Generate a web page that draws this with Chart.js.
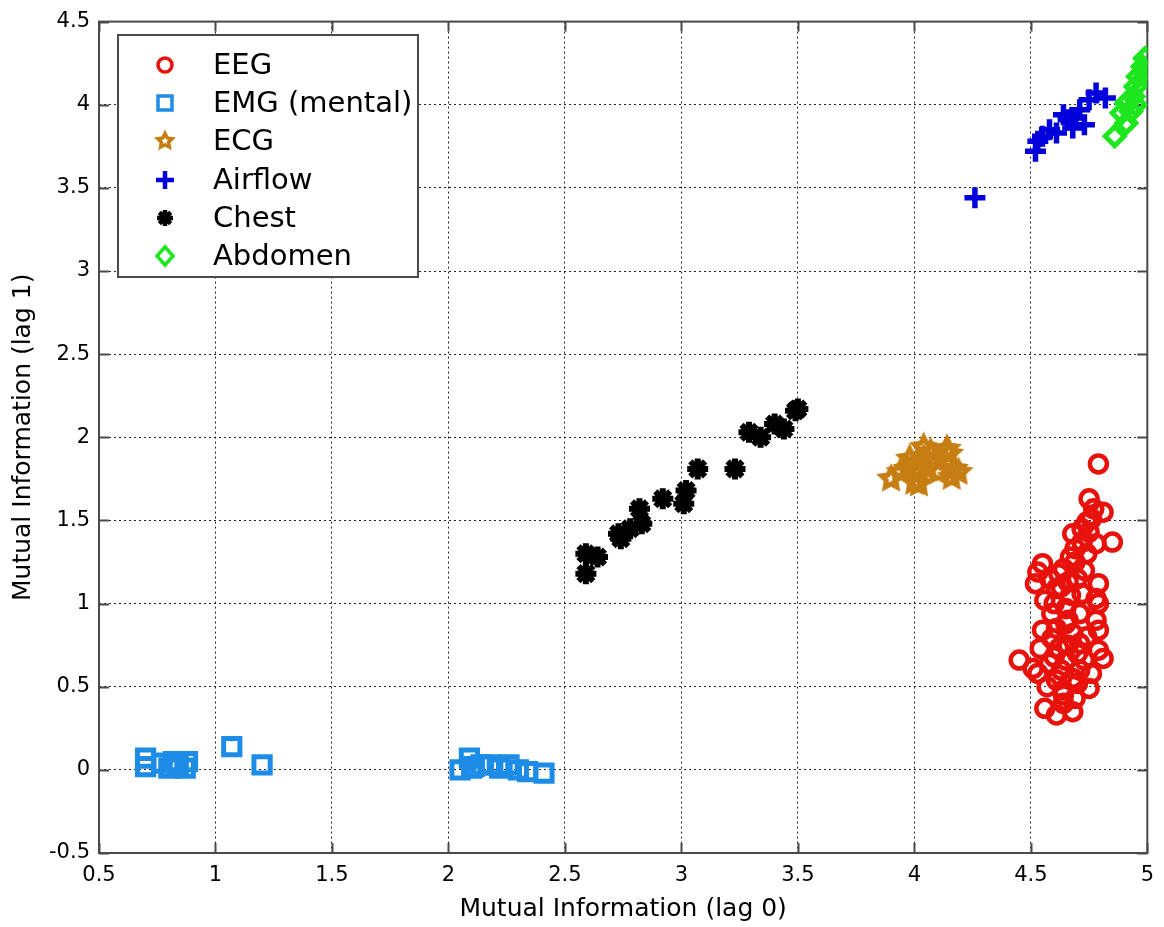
<!DOCTYPE html>
<html>
<head>
<meta charset="utf-8">
<script src="https://cdn.jsdelivr.net/npm/chart.js@4/dist/chart.umd.min.js"></script>
<style>
  html, body { margin: 0; padding: 0; background: #fff; }
  #wrap { width: 1164px; height: 927px; }
</style>
</head>
<body>
<div id="wrap"><canvas id="miChart" width="1164" height="927"></canvas></div>
<script>
// Series names, legend order
const seriesNames = ["EEG", "EMG (mental)", "ECG", "Airflow", "Chest", "Abdomen"];

// Axis ticks
const xTicks = [0.5, 1, 1.5, 2, 2.5, 3, 3.5, 4, 4.5, 5];
const yTicks = [-0.5, 0, 0.5, 1, 1.5, 2, 2.5, 3, 3.5, 4, 4.5];

// EEG (red circles)
const eegX = [4.79, 4.75, 4.77, 4.81, 4.68, 4.85, 4.75, 4.78, 4.55, 4.53, 4.52, 4.64, 4.69, 4.74, 4.79,
  4.56, 4.61, 4.66, 4.72, 4.78, 4.59, 4.65, 4.71, 4.78, 4.55, 4.79, 4.61, 4.68, 4.54, 4.62, 4.71, 4.79,
  4.45, 4.51, 4.58, 4.65, 4.73, 4.81, 4.53, 4.61, 4.68, 4.75, 4.64, 4.69, 4.56, 4.61, 4.64, 4.71, 4.66,
  4.62, 4.58, 4.69, 4.72, 4.74, 4.76, 4.79, 4.59, 4.67, 4.70, 4.63, 4.74, 4.60, 4.70, 4.66, 4.73, 4.57, 4.68,
  4.63, 4.67, 4.72, 4.65, 4.60, 4.76, 4.70, 4.64];
const eegY = [1.84, 1.63, 1.57, 1.55, 1.42, 1.37, 1.43, 1.36, 1.24, 1.19, 1.12, 1.21, 1.25, 1.30, 1.12,
  1.02, 1.09, 1.13, 1.06, 1.03, 0.94, 0.97, 0.94, 0.90, 0.84, 0.84, 0.85, 0.82, 0.73, 0.73, 0.76, 0.72,
  0.66, 0.61, 0.64, 0.66, 0.66, 0.67, 0.58, 0.54, 0.55, 0.49, 0.48, 0.43, 0.37, 0.33, 0.40, 0.60, 0.90,
  1.18, 1.15, 1.33, 1.37, 1.49, 1.51, 1.00, 0.79, 1.05, 0.70, 0.60, 0.80, 1.00, 1.15, 0.75, 1.20, 0.50, 0.35,
  1.10, 1.28, 1.45, 0.88, 0.68, 0.58, 0.52, 0.45];

// EMG mental (blue squares)
const emgX = [0.70, 0.70, 0.77, 0.80, 0.84, 0.88, 0.87, 0.82, 1.07, 1.20,
  2.05, 2.09, 2.10, 2.11, 2.14, 2.18, 2.22, 2.26, 2.30, 2.34, 2.41];
const emgY = [0.07, 0.02, 0.04, 0.01, 0.03, 0.05, 0.01, 0.05, 0.14, 0.03,
  0.00, 0.07, 0.01, 0.02, 0.03, 0.03, 0.01, 0.03, 0.00, -0.01, -0.02];

// ECG (orange stars)
const ecgX = [3.90, 3.94, 3.97, 3.98, 4.01, 4.02, 4.04, 4.04, 4.06, 4.09, 4.14, 4.15, 4.17, 4.19, 4.10, 4.01, 4.07, 4.00, 4.16];
const ecgY = [1.75, 1.79, 1.81, 1.87, 1.78, 1.72, 1.94, 1.87, 1.81, 1.87, 1.93, 1.90, 1.81, 1.79, 1.79, 1.85, 1.91, 1.73, 1.76];

// Airflow (blue crosses)
const airX = [4.52, 4.53, 4.55, 4.58, 4.61, 4.64, 4.66, 4.68, 4.69, 4.71, 4.73, 4.75, 4.78, 4.82, 4.26];
const airY = [3.72, 3.78, 3.81, 3.85, 3.83, 3.94, 3.91, 3.86, 3.92, 3.97, 3.88, 4.03, 4.07, 4.04, 3.44];

// Chest (black asterisks)
const chestX = [2.59, 2.59, 2.64, 2.73, 2.74, 2.78, 2.83, 2.82, 2.92, 3.01, 3.02, 3.07, 3.23, 3.29, 3.34, 3.40, 3.44, 3.49, 3.50];
const chestY = [1.18, 1.30, 1.28, 1.42, 1.39, 1.45, 1.48, 1.57, 1.63, 1.60, 1.68, 1.81, 1.81, 2.03, 2.00, 2.08, 2.05, 2.16, 2.17];

// Abdomen (green diamonds)
const abdX = [4.86, 4.91, 4.89, 4.91, 4.94, 4.95, 4.96, 4.98, 4.99, 4.99, 4.95, 4.93, 4.99];
const abdY = [3.81, 3.89, 3.95, 4.01, 4.05, 4.11, 4.17, 4.23, 4.28, 4.21, 4.00, 3.96, 4.19];

const colors = ["#e8120c", "#1c8ce6", "#c67d12", "#0000dc", "#000000", "#1ee61e"];

function pairs(xs, ys) {
  return xs.map((x, i) => ({ x: x, y: ys[i] }));
}

// pentagram marker for ECG
function makeStar(r, color, lw) {
  const size = Math.ceil(r * 2 + lw * 2 + 2);
  const c = document.createElement("canvas");
  c.width = size;
  c.height = size;
  const g = c.getContext("2d");
  g.translate(size / 2, size / 2);
  g.beginPath();
  for (let i = 0; i < 10; i++) {
    const rr = i % 2 === 0 ? r : r * 0.5;
    const a = -Math.PI / 2 + (i * Math.PI) / 5;
    if (i === 0) g.moveTo(rr * Math.cos(a), rr * Math.sin(a));
    else g.lineTo(rr * Math.cos(a), rr * Math.sin(a));
  }
  g.closePath();
  g.lineWidth = lw;
  g.lineJoin = "miter";
  g.strokeStyle = color;
  g.stroke();
  return c;
}

const ecgStar = makeStar(10, colors[2], 5);
const ecgStarSmall = makeStar(7.5, colors[2], 3.5);

const FONT = "'DejaVu Sans', Arial, sans-serif";

const datasets = [
  { label: seriesNames[0], data: pairs(eegX, eegY), pointStyle: "circle", pointRadius: 8.5, borderWidth: 4.5, order: 6 },
  { label: seriesNames[1], data: pairs(emgX, emgY), pointStyle: "rect", pointRadius: 11.5, borderWidth: 5, order: 5 },
  { label: seriesNames[2], data: pairs(ecgX, ecgY), pointStyle: ecgStar, pointRadius: 10, borderWidth: 0, order: 4 },
  { label: seriesNames[3], data: pairs(airX, airY), pointStyle: "cross", pointRadius: 10.5, borderWidth: 5.5, order: 3 },
  { label: seriesNames[4], data: pairs(chestX, chestY), pointStyle: "star", pointRadius: 10.5, borderWidth: 6, order: 2 },
  { label: seriesNames[5], data: pairs(abdX, abdY), pointStyle: "rectRot", pointRadius: 9.5, borderWidth: 5, order: 1 },
].map((d, i) => Object.assign(d, {
  borderColor: colors[i],
  backgroundColor: "rgba(0,0,0,0)",
  pointBorderColor: colors[i],
  pointBackgroundColor: "rgba(0,0,0,0)",
  pointBorderWidth: d.borderWidth,
  pointHoverRadius: d.pointRadius,
  pointHoverBorderWidth: d.borderWidth,
  showLine: false,
  clip: 0,
}));

// box, inward ticks and legend, matlab style
const boxPlugin = {
  id: "boxPlugin",
  beforeDatasetsDraw(chart) {
    const { ctx, chartArea: a, scales } = chart;
    ctx.save();
    ctx.strokeStyle = "#4a4a4a";
    ctx.lineWidth = 2;
    ctx.strokeRect(a.left, a.top, a.right - a.left, a.bottom - a.top);
    ctx.beginPath();
    const tl = 10;
    xTicks.forEach((t) => {
      const px = Math.round(scales.x.getPixelForValue(t)) + 0.5;
      ctx.moveTo(px, a.bottom); ctx.lineTo(px, a.bottom - tl);
      ctx.moveTo(px, a.top); ctx.lineTo(px, a.top + tl);
    });
    yTicks.forEach((t) => {
      const py = Math.round(scales.y.getPixelForValue(t)) + 0.5;
      ctx.moveTo(a.left, py); ctx.lineTo(a.left + tl, py);
      ctx.moveTo(a.right, py); ctx.lineTo(a.right - tl, py);
    });
    ctx.stroke();
    ctx.restore();
  },
  afterDraw(chart) {
    const ctx = chart.ctx;
    const left = 118, top = 35, w = 300, h = 242;
    const rowY = [65, 103, 141, 180, 218, 256];
    ctx.save();
    ctx.fillStyle = "#fff";
    ctx.fillRect(left, top, w, h);
    ctx.strokeStyle = "#4a4a4a";
    ctx.lineWidth = 2;
    ctx.strokeRect(left, top, w, h);
    chart.data.datasets.forEach((d, i) => {
      const cx = 165, cy = rowY[i];
      ctx.strokeStyle = colors[i];
      ctx.fillStyle = colors[i];
      ctx.lineWidth = 3.5;
      ctx.beginPath();
      if (i === 0) {
        ctx.arc(cx, cy, 7, 0, Math.PI * 2);
      } else if (i === 1) {
        ctx.rect(cx - 7, cy - 7, 14, 14);
      } else if (i === 2) {
        ctx.drawImage(ecgStarSmall, cx - ecgStarSmall.width / 2, cy - ecgStarSmall.height / 2);
      } else if (i === 3) {
        ctx.lineWidth = 4.5;
        ctx.moveTo(cx - 9, cy); ctx.lineTo(cx + 9, cy);
        ctx.moveTo(cx, cy - 9); ctx.lineTo(cx, cy + 9);
      } else if (i === 4) {
        ctx.lineWidth = 4.5;
        for (let k = 0; k < 4; k++) {
          const ang = (k * Math.PI) / 4;
          ctx.moveTo(cx - 8 * Math.cos(ang), cy - 8 * Math.sin(ang));
          ctx.lineTo(cx + 8 * Math.cos(ang), cy + 8 * Math.sin(ang));
        }
      } else {
        ctx.moveTo(cx - 8, cy); ctx.lineTo(cx, cy - 9);
        ctx.lineTo(cx + 8, cy); ctx.lineTo(cx, cy + 9);
        ctx.closePath();
      }
      ctx.stroke();
      ctx.fillStyle = "#000";
      ctx.font = "29px " + FONT;
      ctx.textAlign = "left";
      ctx.textBaseline = "middle";
      ctx.fillText(d.label, 213, cy + 1);
    });
    ctx.restore();
  },
};

new Chart(document.getElementById("miChart"), {
  type: "scatter",
  data: { datasets: datasets },
  options: {
    responsive: false,
    animation: false,
    events: [],
    layout: { padding: { left: 0, right: 7, top: 19, bottom: 0 } },
    plugins: {
      legend: { display: false },
      tooltip: { enabled: false },
    },
    scales: {
      x: {
        type: "linear",
        min: 0.5,
        max: 5,
        afterBuildTicks: (s) => { s.ticks = xTicks.map((v) => ({ value: v })); },
        afterFit: (s) => { s.height = 74; },
        ticks: {
          color: "#000",
          font: { family: FONT, size: 21 },
          padding: 10,
          maxRotation: 0,
          callback: (v) => String(v),
        },
        grid: { color: "#222", lineWidth: 1, drawTicks: false },
        border: { display: false, dash: [2, 3] },
        title: {
          display: true,
          text: "Mutual Information (lag 0)",
          color: "#000",
          font: { family: FONT, size: 25 },
          padding: { top: 0, bottom: 3 },
        },
      },
      y: {
        type: "linear",
        min: -0.5,
        max: 4.5,
        afterBuildTicks: (s) => { s.ticks = yTicks.map((v) => ({ value: v })); },
        afterFit: (s) => { s.width = 99; },
        ticks: {
          color: "#000",
          font: { family: FONT, size: 21 },
          padding: 9,
          callback: (v) => String(v),
        },
        grid: { color: "#222", lineWidth: 1, drawTicks: false },
        border: { display: false, dash: [2, 3] },
        title: {
          display: true,
          text: "Mutual Information (lag 1)",
          color: "#000",
          font: { family: FONT, size: 25 },
          padding: { top: 8, bottom: 0 },
        },
      },
    },
  },
  plugins: [boxPlugin],
});
</script>
</body>
</html>
